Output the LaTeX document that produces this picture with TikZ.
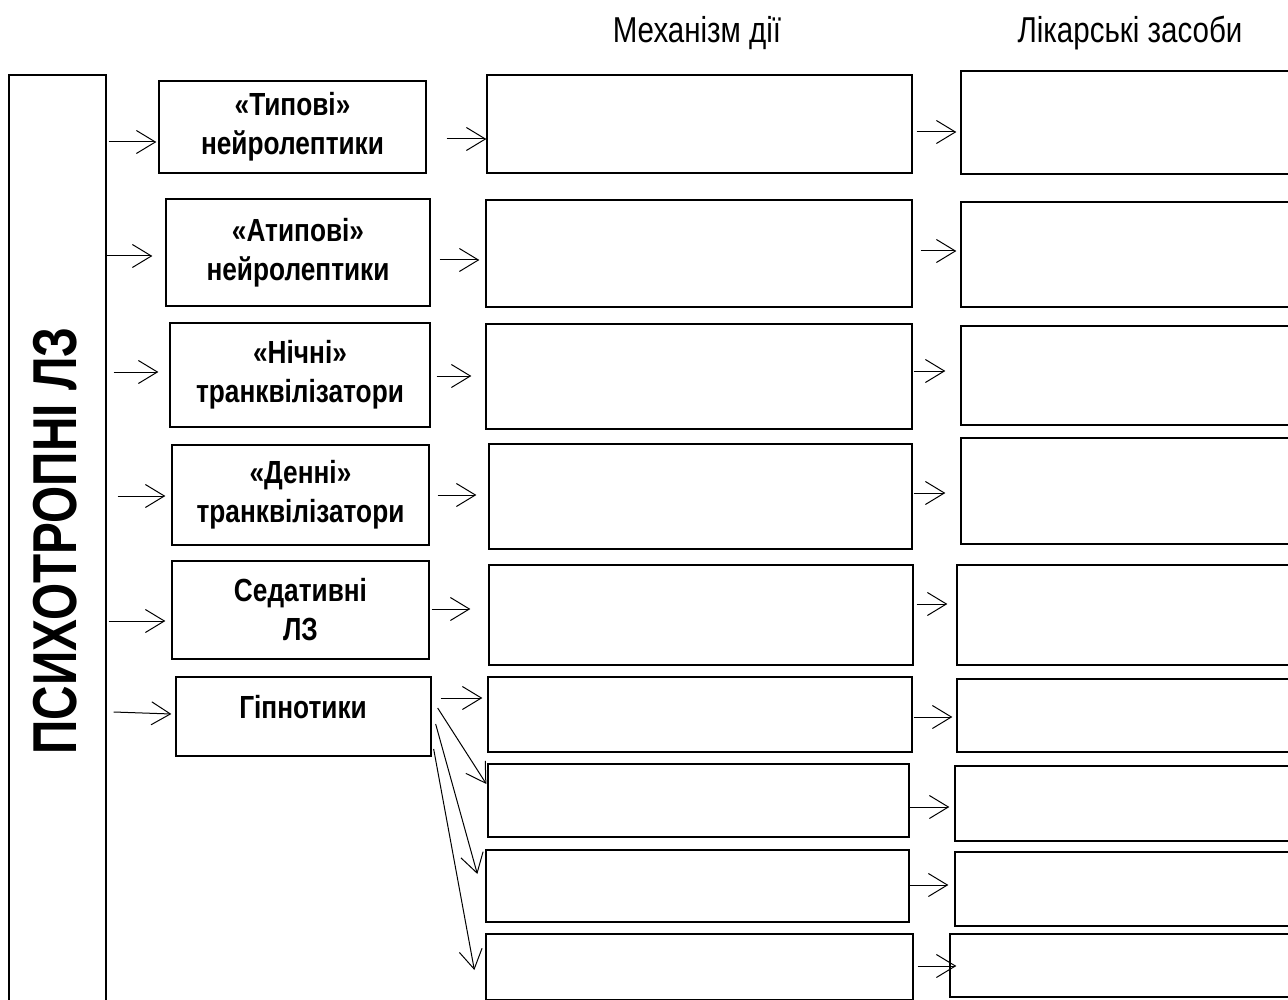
\documentclass[tikz,border=0pt]{standalone}
\usepackage{fontspec}
\setmainfont{Liberation Sans}[FakeStretch=0.82]
\newfontfamily\titlefont{Liberation Sans}[FakeStretch=0.77]
\usetikzlibrary{arrows.meta,calc}
\tikzset{
  box/.style={draw, line width=1.3pt, inner sep=0pt},
  wh/.style 2 args={minimum width=#1pt, minimum height=#2pt},
  cattext/.style={align=center, font=\bfseries\fontsize{32}{39}\selectfont},
  cat/.style={box, cattext},
  head/.style={anchor=base, inner sep=0pt, font=\fontsize{36}{40}\selectfont},
  arr/.style={-{Straight Barb[length=19pt,width=23pt]}, line width=1pt},
}
\begin{document}
\begin{tikzpicture}[x=1pt,y=-1pt]
\useasboundingbox (0,0) rectangle (1288,1000);
% headings
\node[head] (hmech) at (697,43) {Механізм дії};
\node[head] (hdrug) at (1130,43) {Лікарські засоби};
% left column
\node[box, wh={97}{930}] (L) at (57.5,540) {};
\node[rotate=90, inner sep=0pt, font=\titlefont\bfseries\fontsize{62}{70}\selectfont] (Ltext) at (55,541) {ПСИХОТРОПНІ ЛЗ};
% groups
\node[cat, wh={267}{92}] (t1) at (292.5,127) {«Типові»\\нейролептики};
\node[cat, wh={264}{107}] (t2) at (298,252.5) {«Атипові»\\нейролептики};
\node[cat, wh={260}{104}] (t3) at (300,375) {«Нічні»\\транквілізатори};
\node[cat, wh={257}{100}] (t4) at (300.5,495) {«Денні»\\транквілізатори};
\node[cat, wh={257}{98}] (t5) at (300.5,610) {Седативні\\ЛЗ};
\node[box, wh={255}{79}] (t6) at (303.5,716.5) {};
\node[cattext] (t6text) at (303,707) {Гіпнотики};
% mechanism of action
\node[box, wh={425}{98}] (m1) at (699.5,124) {};
\node[box, wh={426}{107}] (m2) at (699,253.5) {};
\node[box, wh={426}{105}] (m3) at (699,376.5) {};
\node[box, wh={423}{105}] (m4) at (700.5,496.5) {};
\node[box, wh={424}{100}] (m5) at (701,615) {};
\node[box, wh={424}{75}] (m6) at (700,714.5) {};
\node[box, wh={421}{73}] (m7) at (698.5,800.5) {};
\node[box, wh={423}{72}] (m8) at (697.5,886) {};
\node[box, wh={427}{66}] (m9) at (699.5,967) {};
% drugs
\node[box, wh={334}{103}] (d1) at (1128,122.5) {};
\node[box, wh={334}{105}] (d2) at (1128,254.5) {};
\node[box, wh={334}{99}] (d3) at (1128,375.5) {};
\node[box, wh={334}{106}] (d4) at (1128,491) {};
\node[box, wh={338}{100}] (d5) at (1126,615) {};
\node[box, wh={338}{73}] (d6) at (1126,715.5) {};
\node[box, wh={340}{75}] (d7) at (1125,803.5) {};
\node[box, wh={340}{74}] (d8) at (1125,889) {};
\node[box, wh={345}{63}] (d9) at (1122.5,965.5) {};
% arrows: left column -> groups
\draw[arr] ($(L.east|-t1.west)+(2,15)$) -- ($(t1.west)+(-2,15)$);
\draw[arr] ($(L.east|-t2.west)+(0,3.5)$) -- ($(t2.west)+(-13,3.5)$);
\draw[arr] ($(L.east|-t3.west)+(7,-3)$) -- ($(t3.west)+(-11,-3)$);
\draw[arr] ($(L.east|-t4.west)+(11,1)$) -- ($(t4.west)+(-6,1)$);
\draw[arr] ($(L.east|-t5.west)+(2,11)$) -- ($(t5.west)+(-6,11)$);
\draw[arr] ($(L.east|-t6.west)+(7,-4.5)$) -- ($(t6.west)+(-4,-2.5)$);
% groups -> mechanism
\draw[arr] ($(t1.east)+(20,12)$) -- ($(m1.west)+(0,15)$);
\draw[arr] ($(t2.east)+(9,7.5)$) -- ($(m2.west)+(-6,6.5)$);
\draw[arr] ($(t3.east)+(6,1)$) -- ($(m3.west)+(-14,-0.5)$);
\draw[arr] ($(t4.east)+(8,0)$) -- ($(m4.west)+(-12,-1.5)$);
\draw[arr] ($(t5.east)+(2,-1)$) -- ($(m5.west)+(-18,-6)$);
\draw[arr] ($(t6.east)+(9,-18.5)$) -- ($(m6.west)+(-5,-16.5)$);
\draw[arr] ($(t6.east)+(6,-8.5)$) -- ($(m7.west)+(-1,-16.5)$);
\draw[arr] ($(t6.east)+(4,7.5)$) -- ($(m8.west)+(-8,-12)$);
\draw[arr] ($(t6.east)+(2,32.5)$) -- ($(m9.west)+(-11,3)$);
% mechanism -> drugs
\draw[arr] ($(m1.east)+(4,8)$) -- ($(d1.west)+(-4,9.5)$);
\draw[arr] ($(m2.east)+(8,-2.5)$) -- ($(d2.west)+(-4,-3.5)$);
\draw[arr] ($(m3.east)+(1,-5.5)$) -- ($(d3.west)+(-15,-4.5)$);
\draw[arr] ($(m4.east)+(1,-3.5)$) -- ($(d4.west)+(-15,2)$);
\draw[arr] ($(m5.east)+(3,-11)$) -- ($(d5.west)+(-9,-11)$);
\draw[arr] ($(m6.east)+(1,2.5)$) -- ($(d6.west)+(-4,1.5)$);
\draw[arr] ($(m7.east)+(0,6.5)$) -- ($(d7.west)+(-5,3.5)$);
\draw[arr] ($(m8.east)+(0,-1)$) -- ($(d8.west)+(-6,-4)$);
\draw[arr] ($(m9.east)+(4,-1)$) -- ($(d9.west)+(7,0.5)$);
\end{tikzpicture}
\end{document}
